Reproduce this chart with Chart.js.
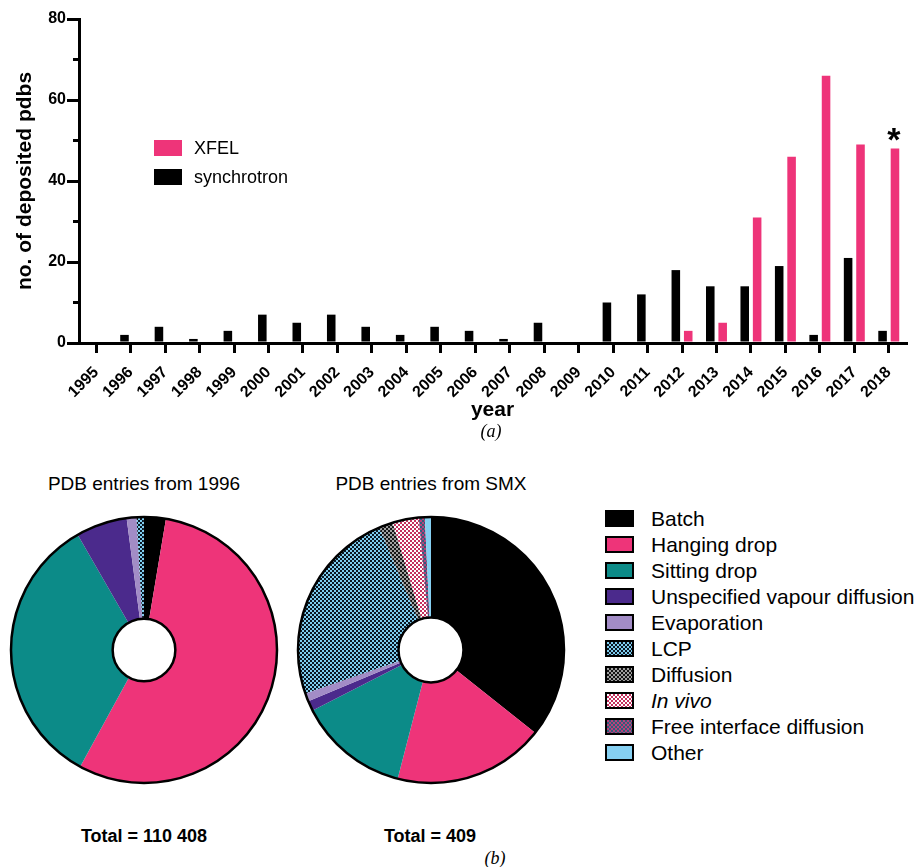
<!DOCTYPE html>
<html>
<head>
<meta charset="utf-8">
<title>Deposited PDB entries by year and crystallisation method</title>
<script src="https://cdn.jsdelivr.net/npm/chart.js@4.4.1/dist/chart.umd.min.js"></script>
<style>
  html, body { margin: 0; padding: 0; background: #fff; }
  #page { position: relative; width: 920px; height: 867px; overflow: hidden;
          font-family: "Liberation Sans", Arial, Helvetica, sans-serif; color: #000; }
  #page canvas { position: absolute; }
  .abs { position: absolute; white-space: nowrap; }
  .caption { font-family: "Liberation Serif", "DejaVu Serif", serif; font-style: italic;
             font-size: 18px; line-height: 20px; text-align: center; width: 40px; }
  .pieTitle { font-size: 19px; line-height: 22px; text-align: center; width: 280px; }
  .total { font-size: 18px; line-height: 22px; font-weight: bold; text-align: center; width: 220px; }
  .legRow { position: absolute; display: flex; align-items: center; height: 26px; white-space: nowrap; }
  .barLeg .sw { width: 28px; height: 16px; margin-right: 12px; }
  .barLeg { font-size: 18px; }
  .pieLeg .sw { box-sizing: border-box; width: 29px; height: 17px; border: 2.5px solid #000; margin-right: 17px; }
  .pieLeg { font-size: 21px; }
</style>
</head>
<body>
<div id="page">
  <canvas id="barChart" width="920" height="445" style="left:0;top:0"></canvas>
  <div id="barLegend"></div>
  <div class="abs caption" style="left:471px;top:421px">(a)</div>

  <div class="abs pieTitle" style="left:4px;top:473px">PDB entries from 1996</div>
  <div class="abs pieTitle" style="left:291px;top:473px">PDB entries from SMX</div>
  <canvas id="pieAll" width="288" height="280" style="left:0;top:510px"></canvas>
  <canvas id="pieSmx" width="270" height="280" style="left:296px;top:510px"></canvas>
  <div id="pieLegend"></div>
  <div class="abs total" style="left:34px;top:825px">Total = 110 408</div>
  <div class="abs total" style="left:320px;top:825px">Total = 409</div>
  <div class="abs caption" style="left:475px;top:848px">(b)</div>
</div>

<script>
// ---- data ----
const years = ['1995', '1996', '1997', '1998', '1999', '2000', '2001', '2002', '2003', '2004', '2005', '2006',
               '2007', '2008', '2009', '2010', '2011', '2012', '2013', '2014', '2015', '2016', '2017', '2018'];
const synchrotronCounts = [0, 2, 4, 1, 3, 7, 5, 7, 4, 2, 4, 3, 1, 5, 0, 10, 12, 18, 14, 14, 19, 2, 21, 3];
const xfelCounts        = [0, 0, 0, 0, 0, 0, 0, 0, 0, 0, 0, 0, 0, 0, 0, 0, 0, 3, 5, 31, 46, 66, 49, 48];
const yAxisMax = 80;
const yAxisStep = 20;

const methods = ['Batch', 'Hanging drop', 'Sitting drop', 'Unspecified vapour diffusion', 'Evaporation',
                 'LCP', 'Diffusion', 'In vivo', 'Free interface diffusion', 'Other'];
const entriesSince1996 = [2915, 61090, 37230, 6869, 1314, 980, 5, 0, 2, 3];   // total 110 408
const entriesSMX       = [146, 75, 55, 5, 4, 98, 7, 13, 3, 3];                  // total 409

// ---- styles ----
const FONT = '"Liberation Sans", Arial, Helvetica, sans-serif';
const PINK = '#EE3479';
const barSeries = [
  { label: 'synchrotron', data: synchrotronCounts, color: '#000000' },
  { label: 'XFEL', data: xfelCounts, color: PINK }
];
// one entry per method: a solid colour, or two colours for a fine checker texture
const methodStyles = [
  ['#000000'], [PINK], ['#0C8B88'], ['#4B2A8C'], ['#A28CC6'],
  ['#7ECDEF', '#0A1622'], ['#A0A0A0', '#151515'], ['#FFFFFF', '#C4305E'], ['#B9407A', '#2E5E7C'], ['#86D0F2']
];
const italicLabels = ['In vivo'];

function checker(a, b) {
  const c = document.createElement('canvas');
  c.width = 4; c.height = 4;
  const g = c.getContext('2d');
  g.fillStyle = a; g.fillRect(0, 0, 4, 4);
  g.fillStyle = b; g.fillRect(0, 0, 2, 2); g.fillRect(2, 2, 2, 2);
  return g.createPattern(c, 'repeat');
}
const methodFills = methodStyles.map(s => s.length === 1 ? s[0] : checker(s[0], s[1]));

// ---- bar chart ----
const minorTicks = {
  id: 'minorTicks',
  afterDraw(chart) {
    const s = chart.scales.y, ctx = chart.ctx, t = s.ticks;
    ctx.save();
    ctx.strokeStyle = '#000';
    ctx.lineWidth = 3;
    for (let i = 0; i < t.length - 1; i++) {
      const y = s.getPixelForValue((t[i].value + t[i + 1].value) / 2);
      ctx.beginPath();
      ctx.moveTo(s.right - 6, y);
      ctx.lineTo(s.right, y);
      ctx.stroke();
    }
    ctx.restore();
  }
};

// marks the last (partial) year above its XFEL bar
const partialYearMark = {
  id: 'partialYearMark',
  afterDatasetsDraw(chart) {
    const meta = chart.getDatasetMeta(1);
    const bar = meta.data[meta.data.length - 1];
    const ctx = chart.ctx;
    ctx.save();
    ctx.fillStyle = '#000';
    ctx.font = 'bold 34px ' + FONT;
    ctx.textAlign = 'center';
    ctx.textBaseline = 'alphabetic';
    ctx.fillText('*', bar.x - 1, bar.y + 2);
    ctx.restore();
  }
};

const axisGrid = (len) => ({ display: true, drawOnChartArea: false, offset: false, tickLength: len, lineWidth: 3, color: '#000' });
const axisBorder = { display: true, width: 3, color: '#000' };

new Chart(document.getElementById('barChart'), {
  type: 'bar',
  data: {
    labels: years,
    datasets: barSeries.map(s => ({
      label: s.label, data: s.data, backgroundColor: s.color, borderWidth: 0,
      categoryPercentage: 0.72, barPercentage: 0.69
    }))
  },
  options: {
    responsive: false,
    animation: false,
    layout: { padding: { top: 19, right: 14, left: 0, bottom: 0 } },
    plugins: { legend: { display: false }, tooltip: { enabled: false } },
    scales: {
      x: {
        grid: axisGrid(10),
        border: axisBorder,
        ticks: { autoSkip: false, minRotation: 45, maxRotation: 45, padding: 10, color: '#000',
                 font: { family: FONT, size: 16, weight: 'bold' } },
        title: { display: true, text: 'year', color: '#000',
                 font: { family: FONT, size: 21, weight: 'bold' }, padding: { top: 0, bottom: 22 } },
        afterFit(s) { s.height = 102; s.paddingLeft = 0; s.paddingRight = 0; }
      },
      y: {
        min: 0, max: yAxisMax,
        grid: axisGrid(12),
        border: axisBorder,
        ticks: { stepSize: yAxisStep, padding: 1, color: '#000', font: { family: FONT, size: 16, weight: 'bold' } },
        title: { display: true, text: 'no. of deposited pdbs', color: '#000',
                 font: { family: FONT, size: 21, weight: 'bold' }, padding: { top: 13, bottom: 0 } },
        afterFit(s) { s.width = 79; s.paddingTop = 0; s.paddingBottom = 0; }
      }
    }
  },
  plugins: [minorTicks, partialYearMark]
});

// legend for the bar chart (XFEL listed first)
const barLegend = document.getElementById('barLegend');
barSeries.slice().reverse().forEach((s, i) => {
  const row = document.createElement('div');
  row.className = 'legRow barLeg';
  row.style.left = '154px';
  row.style.top = (135 + i * 29) + 'px';
  const sw = document.createElement('span');
  sw.className = 'sw';
  sw.style.background = s.color;
  const tx = document.createElement('span');
  tx.textContent = s.label;
  row.appendChild(sw); row.appendChild(tx);
  barLegend.appendChild(row);
});

// ---- doughnut charts ----
const ringOutline = {
  id: 'ringOutline',
  afterDatasetsDraw(chart) {
    const arc = chart.getDatasetMeta(0).data[0];
    const p = arc.getProps(['x', 'y', 'outerRadius', 'innerRadius'], true);
    const ctx = chart.ctx;
    ctx.save();
    ctx.strokeStyle = '#000';
    ctx.lineWidth = 2.5;
    ctx.beginPath(); ctx.arc(p.x, p.y, p.outerRadius, 0, Math.PI * 2); ctx.stroke();
    ctx.beginPath(); ctx.arc(p.x, p.y, p.innerRadius, 0, Math.PI * 2); ctx.stroke();
    ctx.restore();
  }
};

function makeRing(id, counts) {
  return new Chart(document.getElementById(id), {
    type: 'doughnut',
    data: { labels: methods, datasets: [{ data: counts, backgroundColor: methodFills, borderWidth: 0 }] },
    options: {
      responsive: false,
      animation: false,
      radius: 133,
      cutout: 33,
      layout: { padding: 0 },
      plugins: { legend: { display: false }, tooltip: { enabled: false } }
    },
    plugins: [ringOutline]
  });
}
makeRing('pieAll', entriesSince1996);
makeRing('pieSmx', entriesSMX);

// legend for the method colours
const pieLegend = document.getElementById('pieLegend');
methods.forEach((m, i) => {
  const st = methodStyles[i];
  const row = document.createElement('div');
  row.className = 'legRow pieLeg';
  row.style.left = '605px';
  row.style.top = (505.5 + i * 26.05) + 'px';
  const sw = document.createElement('span');
  sw.className = 'sw';
  sw.style.background = st.length === 1 ? st[0]
    : `repeating-conic-gradient(${st[1]} 0% 25%, ${st[0]} 0% 50%) 0 0 / 4px 4px`;
  const tx = document.createElement('span');
  tx.textContent = m;
  if (italicLabels.includes(m)) tx.style.fontStyle = 'italic';
  row.appendChild(sw); row.appendChild(tx);
  pieLegend.appendChild(row);
});
</script>
</body>
</html>
